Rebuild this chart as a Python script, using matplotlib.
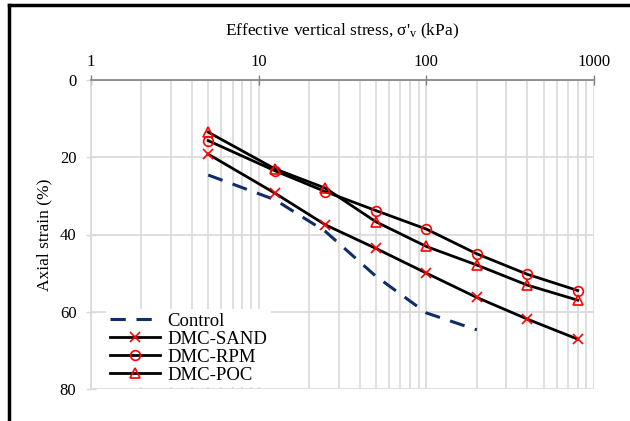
import matplotlib
matplotlib.use("Agg")
import matplotlib.pyplot as plt
from matplotlib.ticker import LogLocator, NullFormatter, FixedLocator, FixedFormatter
from matplotlib.lines import Line2D

plt.rcParams['font.family'] = ['Liberation Serif', 'DejaVu Serif']
plt.rcParams['mathtext.fontset'] = 'custom'
plt.rcParams['mathtext.rm'] = 'Liberation Serif'

stress = [5, 12.5, 25, 50, 100, 200, 400, 800]
control_stress = [5, 12.5, 25, 50, 100, 200]
control = [24.6, 31.0, 39.2, 50.8, 60.3, 64.7]
dmc_sand = [19.2, 29.3, 37.5, 43.6, 50.0, 56.3, 61.9, 67.1]
dmc_rpm = [15.7, 23.5, 28.9, 33.8, 38.6, 45.0, 50.3, 54.5]
dmc_poc = [13.5, 23.0, 28.0, 36.7, 43.1, 47.9, 53.1, 57.0]

x_ticks = [1, 10, 100, 1000]
x_tick_labels = ['1', '10', '100', '1000']
y_ticks = [0, 20, 40, 60, 80]

fig = plt.figure(figsize=(6.3, 4.21), dpi=100)
ax = fig.add_axes([91/630, 1-389/421, (594-91)/630, (389-80)/421])

grid_c = '#d9d9d9'
ax.set_xscale('log')
ax.set_xlim(1, 1000)
ax.set_ylim(80, 0)

ax.xaxis.set_major_locator(FixedLocator(x_ticks))
ax.xaxis.set_major_formatter(FixedFormatter(x_tick_labels))
ax.xaxis.set_minor_locator(LogLocator(base=10, subs=range(2, 10)))
ax.xaxis.set_minor_formatter(NullFormatter())
ax.set_yticks(y_ticks)

ax.grid(True, which='major', color=grid_c, linewidth=1.2, zorder=0)
ax.grid(True, which='minor', axis='x', color=grid_c, linewidth=1.2, zorder=0)
ax.set_axisbelow(True)

ax.xaxis.tick_top()
ax.xaxis.set_label_position('top')
ax.tick_params(axis='x', which='major', direction='inout', length=7, color='#808080',
               width=1, labelsize=12, pad=4)
ax.tick_params(axis='x', which='minor', length=0)
ax.tick_params(axis='y', which='major', direction='inout', length=7, color=grid_c,
               width=1, labelsize=12, pad=7)

for s in ['bottom', 'right']:
    ax.spines[s].set_visible(False)
ax.spines['top'].set_color('#808080')
ax.spines['top'].set_linewidth(1.2)
ax.spines['left'].set_color(grid_c)
ax.spines['left'].set_linewidth(1.2)

ax.plot(control_stress, control, linestyle=(0, (5, 3.5)), color='#0f2d69', linewidth=2.2,
        label='Control', zorder=3)
ax.plot(stress, dmc_sand, color='black', linewidth=2, marker='x', markersize=6.5,
        markeredgecolor='red', markeredgewidth=1.2, label='DMC-SAND', zorder=3)
ax.plot(stress, dmc_rpm, color='black', linewidth=2, marker='o', markersize=7,
        markerfacecolor='none', markeredgecolor='red', markeredgewidth=1.2,
        label='DMC-RPM', zorder=3)
ax.plot(stress, dmc_poc, color='black', linewidth=2, marker='^', markersize=6.5,
        markerfacecolor='none', markeredgecolor='red', markeredgewidth=1.2,
        label='DMC-POC', zorder=3)

ax.set_xlabel("Effective vertical stress, σ'$\\mathregular{_v}$ (kPa)", fontsize=12.5, labelpad=13)
ax.set_ylabel('Axial strain (%)', fontsize=12.5, labelpad=5)

leg = ax.legend(loc='lower left', bbox_to_anchor=(0.03, 0.005), frameon=True,
                fontsize=13.5, handlelength=2.7, handletextpad=0.35, labelspacing=0.05,
                borderpad=0.2, borderaxespad=0.0)
leg.get_frame().set_facecolor('white')
leg.get_frame().set_edgecolor('none')
leg.get_frame().set_alpha(1)
leg.get_frame().set_boxstyle('square', pad=0)

# figure border lines (left and top)
fig.add_artist(Line2D([9/630, 9/630], [0, 1-5/421], transform=fig.transFigure,
                      color='black', linewidth=2.5))
fig.add_artist(Line2D([9/630, 1], [1-5/421, 1-5/421], transform=fig.transFigure,
                      color='black', linewidth=2.5))

fig.savefig('out.png', dpi=100)
